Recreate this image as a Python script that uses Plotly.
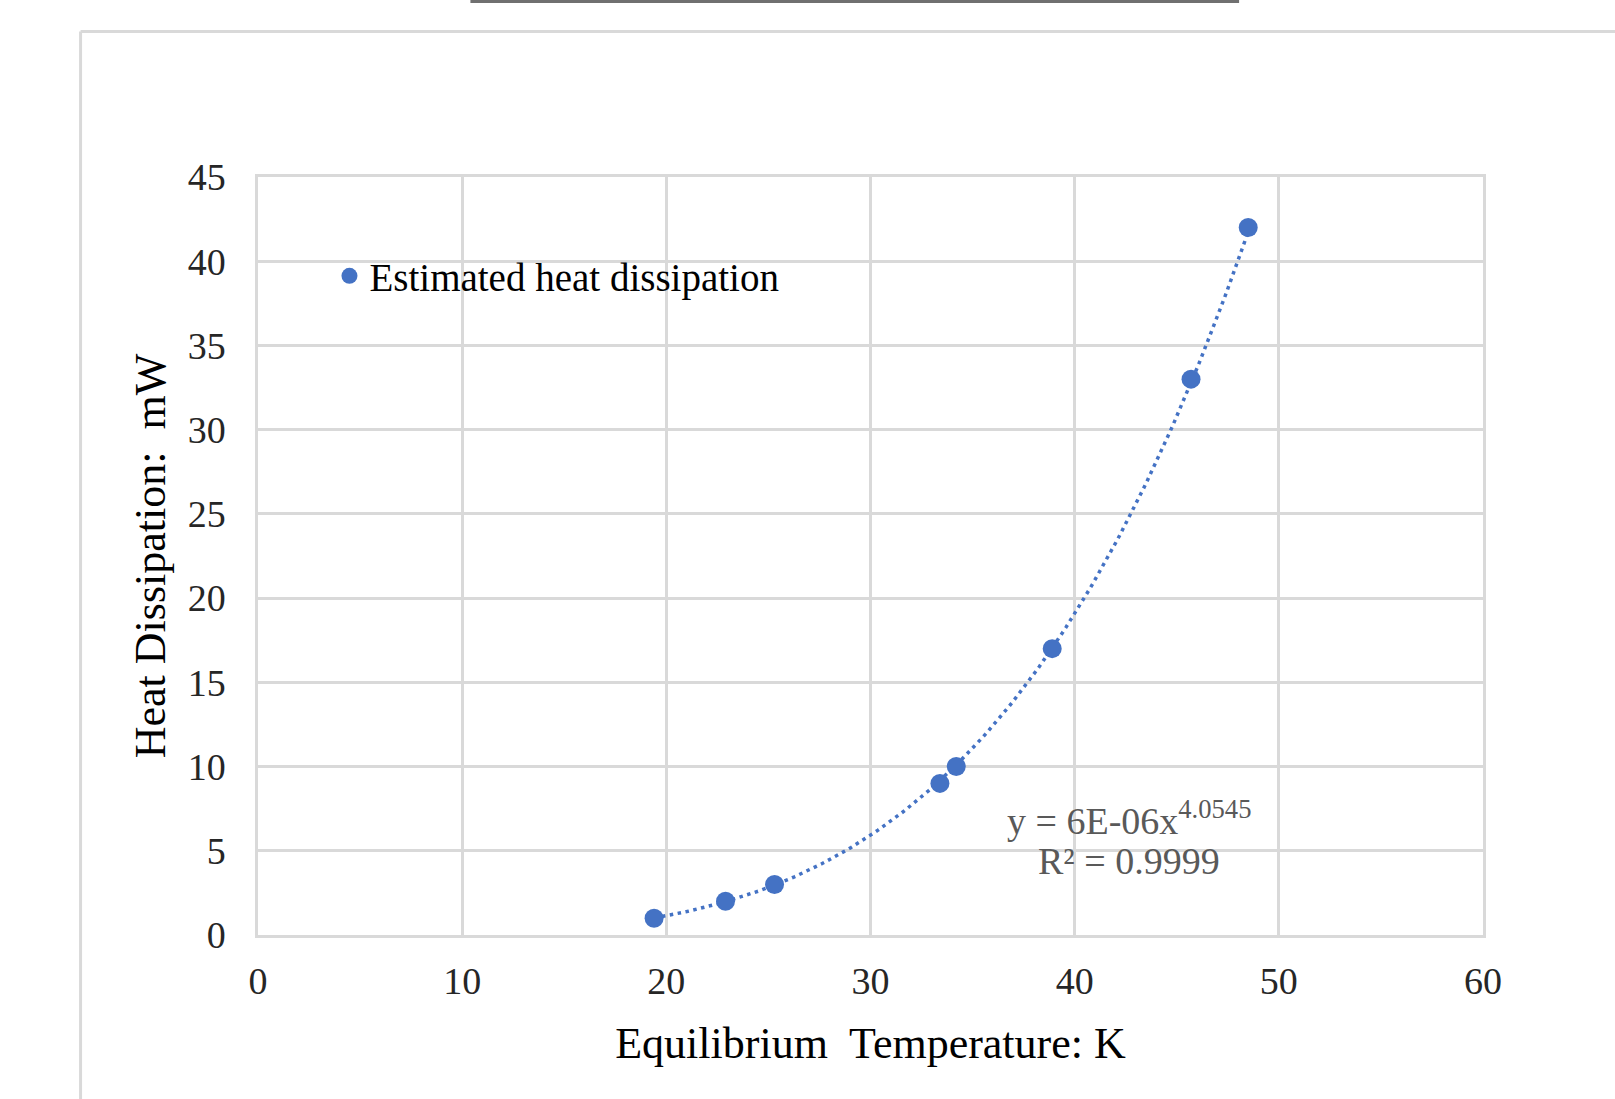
import numpy as np
import plotly.graph_objects as go

# ---- data ----
temperature_K = [19.4, 22.9, 25.3, 33.4, 34.2, 38.9, 45.7, 48.5]
heat_mW = [1, 2, 3, 9, 10, 17, 33, 42]
series_name = "Estimated heat dissipation"
x_ticks = [0, 10, 20, 30, 40, 50, 60]
y_ticks = [0, 5, 10, 15, 20, 25, 30, 35, 40, 45]
equation_line1 = "y = 6E-06x<sup>4.0545</sup>"
equation_line2 = "R² = 0.9999"

# ---- power trendline fitted from the data (like Excel) ----
b, ln_a = np.polyfit(np.log(temperature_K), np.log(heat_mW), 1)
a = np.exp(ln_a)
tx = np.linspace(min(temperature_K), max(temperature_K), 200)
ty = a * tx ** b

W, H = 1615, 1099
L, R, T, B = 257.5, 1483.0, 177.0, 935.0
PW, PH = R - L, B - T

def px(xp):
    return (xp - L) / PW

def py(yp):
    return (B - yp) / PH

BLUE = "#4472C4"
GRID = "#d9d9d9"
FONT = "Liberation Serif, Times New Roman, serif"

fig = go.Figure()
fig.add_trace(go.Scatter(x=tx, y=ty, mode="lines",
                         line=dict(color=BLUE, width=3.5, dash="3.5px,4.5px"),
                         showlegend=False, hoverinfo="skip"))
fig.add_trace(go.Scatter(x=temperature_K, y=heat_mW, mode="markers",
                         name=series_name,
                         marker=dict(color=BLUE, size=19)))

shapes = [
    dict(type="rect", xref="paper", yref="paper",
         x0=px(299), x1=px(812), y0=py(347), y1=py(204),
         fillcolor="white", line=dict(width=0), layer="between"),
    dict(type="line", xref="paper", yref="paper",
         x0=px(80), x1=px(1630), y0=py(31.5), y1=py(31.5),
         line=dict(color=GRID, width=3)),
    dict(type="line", xref="paper", yref="paper",
         x0=px(80), x1=px(80), y0=py(31.5), y1=py(1110),
         line=dict(color=GRID, width=3)),
    dict(type="line", xref="paper", yref="paper",
         x0=px(470), x1=px(1239), y0=py(1.5), y1=py(1.5),
         line=dict(color="#707070", width=3)),
]

annotations = [
    dict(text=equation_line1, xref="paper", yref="paper",
         x=px(1129), y=py(818), xanchor="center", yanchor="middle",
         showarrow=False, font=dict(family=FONT, size=38, color="#595959")),
    dict(text=equation_line2, xref="paper", yref="paper",
         x=px(1129), y=py(861), xanchor="center", yanchor="middle",
         showarrow=False, font=dict(family=FONT, size=38, color="#595959")),
]

fig.update_layout(
    width=W, height=H,
    margin=dict(l=L, r=W - R, t=T, b=H - B, autoexpand=False),
    paper_bgcolor="white", plot_bgcolor="white",
    font=dict(family=FONT, color="#262626"),
    shapes=shapes, annotations=annotations,
    legend=dict(x=px(329), y=py(276), xanchor="left", yanchor="middle",
                bgcolor="rgba(0,0,0,0)", borderwidth=0,
                font=dict(family=FONT, size=39, color="black")),
    showlegend=True,
)
fig.update_xaxes(range=[0, 60], tickvals=x_ticks, showgrid=True,
                 gridcolor=GRID, gridwidth=2.5, zeroline=False,
                 showline=True, mirror=True, linecolor=GRID, linewidth=2.5,
                 ticks="", ticklabelstandoff=11,
                 tickfont=dict(family=FONT, size=38, color="#262626"),
                 title=dict(text="Equilibrium  Temperature: K", standoff=26,
                            font=dict(family=FONT, size=44, color="black")))
fig.update_yaxes(range=[0, 45], tickvals=y_ticks, showgrid=True,
                 gridcolor=GRID, gridwidth=2.5, zeroline=True,
                 zerolinecolor="#bfbfbf", zerolinewidth=2.5,
                 showline=True, mirror=True, linecolor=GRID, linewidth=2.5,
                 ticks="", ticklabelstandoff=22,
                 tickfont=dict(family=FONT, size=38, color="#262626"),
                 title=dict(text="Heat Dissipation:  mW", standoff=9,
                            font=dict(family=FONT, size=44, color="black")))

fig.write_html("out.html",
               config={"displayModeBar": False},
               post_script="document.body.style.margin='0px';"
                           "document.body.style.overflow='hidden';")
